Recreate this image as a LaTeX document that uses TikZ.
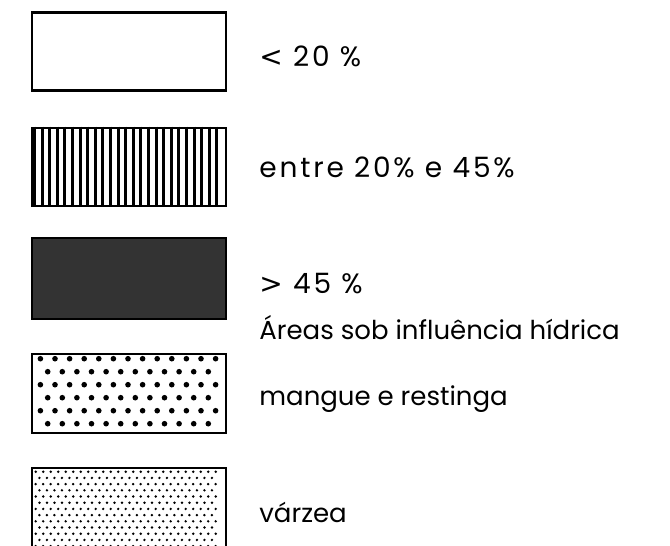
\documentclass[tikz,border=0pt]{standalone}
\usepackage{fontspec}
\setmainfont{Poppins}
\newfontfamily\numfont[LetterSpace=10]{Poppins}
\newfontfamily\relfont{DejaVu Sans}
\usetikzlibrary{positioning}

\tikzset{
  legbox/.style={draw, line width=1.3pt, minimum width=97pt, minimum height=39pt, inner sep=0pt},
  legtext/.style={anchor=base west, inner sep=0pt, font=\fontsize{13}{16}\selectfont},
  numtext/.style={legtext, font=\fontsize{14}{16}\numfont},
  hatchline/.style={line width=1.45pt},
  bigdot/.style={fill=black, draw=none},
}

\begin{document}
\begin{tikzpicture}[x=0.5pt, y=-0.5pt]
    \useasboundingbox (0,0) rectangle (670,546);

    % legend boxes
    \node[legbox] (b1) at (129,51.5) {};
    \node[legbox, minimum height=39pt] (b2) at (129,167) {};
    \node[legbox, fill=black!80, minimum height=40.5pt] (b3) at (129,278.5) {};
    \node[legbox, minimum height=39.5pt] (b4) at (129,393.5) {};
    \node[legbox, minimum height=42pt] (b5) at (129,510) {};

    % vertical hatching
    \begin{scope}[shift={(b2.north west)}]
        \foreach \i in {1,...,25}
            \draw[hatchline] ({(\i-0.5)*7.6},0) -- ({(\i-0.5)*7.6},78);
    \end{scope}

    % mangue: coarse dots
    \begin{scope}[shift={(b4.north west)}]
        \foreach \r in {0,2,4}
            \foreach \c in {0,...,12}
                \fill[bigdot] ({9.7+\c*14.6},{6+\r*13}) circle (2.8);
        \foreach \r in {1,3,5}
            \foreach \c in {0,...,11}
                \fill[bigdot] ({17+\c*14.6},{6+\r*13}) circle (2.8);
    \end{scope}

    % varzea: fine dots
    \begin{scope}[shift={(b5.north west)}]
        \foreach \r in {0,2,...,12}
            \foreach \c in {0,...,24}
                \fill ({5+\c*7.5},{5+\r*6.2}) circle (1.35);
        \foreach \r in {1,3,...,11}
            \foreach \c in {0,...,23}
                \fill ({8.75+\c*7.5},{5+\r*6.2}) circle (1.35);
    \end{scope}

    % labels
    \node[numtext] (t1) at (259,66) {{\relfont<} 20 \%};
    \node[numtext] (t2) at (259,177) {entre 20\% e 45\%};
    \node[numtext] (t3) at (259,293) {{\relfont>} 45 \%};
    \node[legtext] (t4) at (259,339) {Áreas sob influência hídrica};
    \node[legtext] (t5) at (259,405) {mangue e restinga};
    \node[legtext] (t6) at (259,522) {várzea};
\end{tikzpicture}
\end{document}
